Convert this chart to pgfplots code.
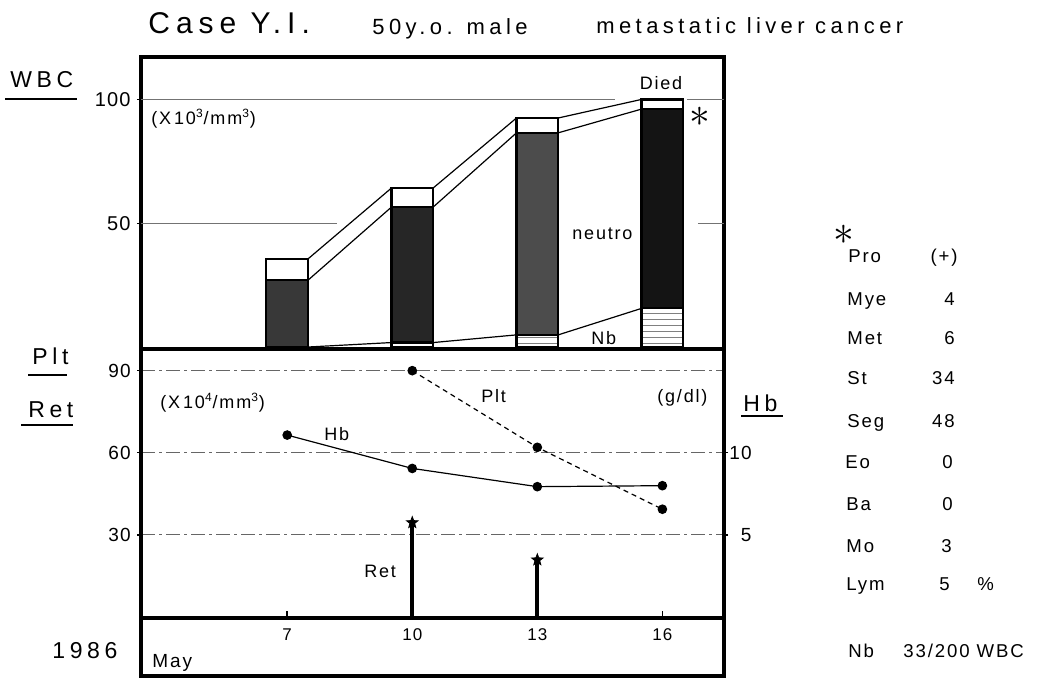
\documentclass[border=0pt]{standalone}
\usepackage{fontspec}
\setmainfont{Liberation Sans}[LetterSpace=20]
\newfontfamily\tickfont{Liberation Sans}[LetterSpace=6]
\newfontfamily\innerfont{Liberation Sans}[LetterSpace=10]
\usepackage{pgfplots}
\pgfplotsset{compat=1.18}
\usetikzlibrary{patterns}

\pgfdeclareplotmark{fstar}{%
  \pgfpathmoveto{\pgfpointpolar{90}{\pgfplotmarksize}}%
  \pgfpathlineto{\pgfpointpolar{126}{0.42\pgfplotmarksize}}%
  \pgfpathlineto{\pgfpointpolar{162}{\pgfplotmarksize}}%
  \pgfpathlineto{\pgfpointpolar{198}{0.42\pgfplotmarksize}}%
  \pgfpathlineto{\pgfpointpolar{234}{\pgfplotmarksize}}%
  \pgfpathlineto{\pgfpointpolar{270}{0.42\pgfplotmarksize}}%
  \pgfpathlineto{\pgfpointpolar{306}{\pgfplotmarksize}}%
  \pgfpathlineto{\pgfpointpolar{342}{0.42\pgfplotmarksize}}%
  \pgfpathlineto{\pgfpointpolar{18}{\pgfplotmarksize}}%
  \pgfpathlineto{\pgfpointpolar{54}{0.42\pgfplotmarksize}}%
  \pgfpathclose\pgfusepathqfillstroke}

\pgfplotsset{
  panel/.style={scale only axis, width=291.5pt, anchor=south west,
    xmin=3.493, xmax=17.478, axis line style={line width=2pt},
    tick style={line width=0.6pt, black}, major tick length=2pt,
    tick align=outside,
    yticklabel style={font=\tickfont\fontsize{9.5}{10}\selectfont, inner sep=0pt, xshift=-3pt},
    /pgf/number format/assume math mode=true},
  mybar/.style={ybar, bar width=1, bar shift=0pt, draw=black, line width=1.1pt},
  gridseg/.style={black!55, line width=0.5pt},
}

\begin{document}
\begin{tikzpicture}
\path[use as bounding box] (0,0) rectangle (518.5pt,340pt);

% ---------------- upper panel: WBC ----------------
\begin{axis}[panel, at={(70.5pt,165.5pt)}, height=146pt,
  ymin=-0.8, ymax=117.14, xtick=\empty, ytick={50,100}, yticklabels={50,100},
  ytick pos=left,
  yticklabel style={font=\tickfont\fontsize{10}{10}\selectfont}]
\addplot[gridseg] coordinates {(3.493,100) (14.87,100)};
\addplot[gridseg] coordinates {(16.6,100) (17.478,100)};
\addplot[gridseg] coordinates {(3.493,50) (8.2,50)};
\addplot[gridseg] coordinates {(16.85,50) (17.478,50)};
% total WBC (white part on top)
\addplot[mybar, fill=white] coordinates {(7,35.6) (10,64.2) (13,92.5) (16,100)};
% neutro
\addplot[mybar, fill=black!78] coordinates {(7,27.0)};
\addplot[mybar, fill=black!85] coordinates {(10,56.5)};
\addplot[mybar, fill=black!70] coordinates {(13,86.5)};
\addplot[mybar, fill=black!92] coordinates {(16,96.1)};
% Nb
\addplot[mybar, fill=white, postaction={pattern=horizontal lines, pattern color=black!50}]
  coordinates {(10,1.8) (13,4.9) (16,15.6)};
% connecting lines
\addplot[black, line width=0.6pt] coordinates {(7.5,35.6) (9.5,64.2) (10.5,64.2) (12.5,92.5) (13.5,92.5) (15.5,100)};
\addplot[black, line width=0.6pt] coordinates {(7.5,27.0) (9.5,56.5) (10.5,56.5) (12.5,86.5) (13.5,86.5) (15.5,96.1)};
\addplot[black, line width=0.6pt] coordinates {(7.5,0) (9.5,1.8) (10.5,1.8) (12.5,4.9) (13.5,4.9) (15.5,15.6)};
\end{axis}

% ---------------- lower panel: Plt / Ret (left scale) ----------------
\begin{axis}[panel, at={(70.5pt,31pt)}, height=134.5pt,
  ymin=-0.33, ymax=97.92, xtick=\empty, ytick={30,60,90}, yticklabels={30,60,90},
  ytick pos=left,
  ymajorgrids, grid style={black!60, line width=0.5pt, dash pattern=on 7pt off 2pt on 1.5pt off 2pt}]
\addplot[black, line width=0.6pt, dash pattern=on 2.5pt off 2pt, mark=*, mark size=2.1pt, mark options={solid}]
  coordinates {(10,90.0) (13,62.0) (16,39.4)};
\addplot[ycomb, black, line width=2pt, mark=fstar, mark size=3pt, mark options={line width=0.4pt}]
  coordinates {(10,34.5) (13,20.9)};
\end{axis}

% ---------------- lower panel: Hb (right scale) ----------------
\begin{axis}[panel, at={(70.5pt,31pt)}, height=134.5pt,
  ymin=-0.055, ymax=16.32, hide x axis, axis y line*=right,
  ytick={5,10}, yticklabels={5,10},
  yticklabel style={anchor=west, text width=11pt, align=right, xshift=3.5pt}]
\addplot[black, line width=0.6pt, mark=*, mark size=2.1pt]
  coordinates {(7,11.08) (10,9.05) (13,7.94) (16,8.0)};
\end{axis}

% ---------------- bottom strip: dates ----------------
\begin{axis}[panel, at={(70.5pt,2pt)}, height=29pt, ymin=0, ymax=1,
  ytick=\empty, xtick={7,10,13,16}, xticklabels={}, xtick pos=right,
  major tick length=3.5pt, tick style={line width=0.8pt}]
\addplot[draw=none] coordinates {(7,0.5)};
\node[anchor=base, font=\tickfont\fontsize{8.5}{9}\selectfont] at (axis cs:7,0.62) {7};
\node[anchor=base, font=\tickfont\fontsize{8.5}{9}\selectfont] at (axis cs:10,0.62) {10};
\node[anchor=base, font=\tickfont\fontsize{8.5}{9}\selectfont] at (axis cs:13,0.62) {13};
\node[anchor=base, font=\tickfont\fontsize{8.5}{9}\selectfont] at (axis cs:16,0.62) {16};
\end{axis}

% ---------------- annotations (pixel grid, 0.5pt per px) ----------------
\begin{scope}[x=0.5pt, y=0.5pt, every node/.style={inner sep=0pt}]
\node[anchor=base west, font=\fontsize{15}{15}\selectfont] at (148,646.7) {Case Y.I.};
\node[anchor=base west, font=\fontsize{11}{11}\selectfont] at (372,645.7) {50y.o. male};
\node[anchor=base west, font=\fontsize{11}{11}\selectfont] at (596,646.7) {metastatic liver cancer};

\node[anchor=base west, font=\fontsize{11.5}{12}\selectfont] at (10,592) {WBC};
\draw[line width=0.8pt] (5,581) -- (77,581);
\node[anchor=base west, font=\fontsize{11.5}{12}\selectfont] at (32,315) {Plt};
\draw[line width=0.8pt] (28,305) -- (67,305);
\node[anchor=base west, font=\fontsize{11.5}{12}\selectfont] at (28,262) {Ret};
\draw[line width=0.8pt] (21,255) -- (73,255);
\node[anchor=base west, font=\fontsize{11.5}{12}\selectfont] at (743,268) {Hb};
\draw[line width=0.8pt] (741,264) -- (783,264);

\node[anchor=base west, font=\fontsize{11.5}{12}\selectfont] at (52,22) {1986};
\node[anchor=base west, font=\innerfont\fontsize{9.5}{10}\selectfont] at (152,13) {May};

% inside upper panel
\begin{scope}[every node/.append style={font=\innerfont\fontsize{9}{9}\selectfont}]
\node[anchor=base west] at (151,555) {(X\,10\textsuperscript{3}/mm\textsuperscript{3})};
\node[anchor=base] at (661,590) {Died};
\node[anchor=base west] at (572,440) {neutro};
\node[anchor=base west] at (591,335) {Nb};
% inside lower panel
\node[anchor=base west] at (160,271) {(X\,10\textsuperscript{4}/mm\textsuperscript{3})};
\node[anchor=base west] at (481,278) {Plt};
\node[anchor=base west] at (657,278) {(g/dl)};
\node[anchor=base west] at (324,240) {Hb};
\node[anchor=base west] at (364,103) {Ret};
\end{scope}
\node[font=\fontsize{22}{22}\selectfont] at (700,563) {$\ast$};

% differential table
\node[font=\fontsize{20}{20}\selectfont] at (844,445) {$\ast$};
\begin{scope}[every node/.append style={font=\innerfont\fontsize{9.3}{9}\selectfont}]
\node[anchor=base west] at (848,417) {Pro}; \node[anchor=base east] at (958,417) {(+)};
\node[anchor=base west] at (847,374) {Mye}; \node[anchor=base east] at (955,374) {4};
\node[anchor=base west] at (847,335) {Met}; \node[anchor=base east] at (955,335) {6};
\node[anchor=base west] at (847,295) {St};  \node[anchor=base east] at (955,295) {34};
\node[anchor=base west] at (847,252) {Seg}; \node[anchor=base east] at (955,252) {48};
\node[anchor=base west] at (845,212) {Eo};  \node[anchor=base east] at (953,212) {0};
\node[anchor=base west] at (846,170) {Ba};  \node[anchor=base east] at (953,170) {0};
\node[anchor=base west] at (846,128) {Mo};  \node[anchor=base east] at (952,128) {3};
\node[anchor=base west] at (846,90)  {Lym}; \node[anchor=base east] at (950,90)  {5};
\node[anchor=base west] at (977,90) {\%};
\node[anchor=base west] at (848,23) {Nb};
\node[anchor=base west] at (903,23) {33/200 WBC};
\end{scope}
\end{scope}
\end{tikzpicture}
\end{document}
